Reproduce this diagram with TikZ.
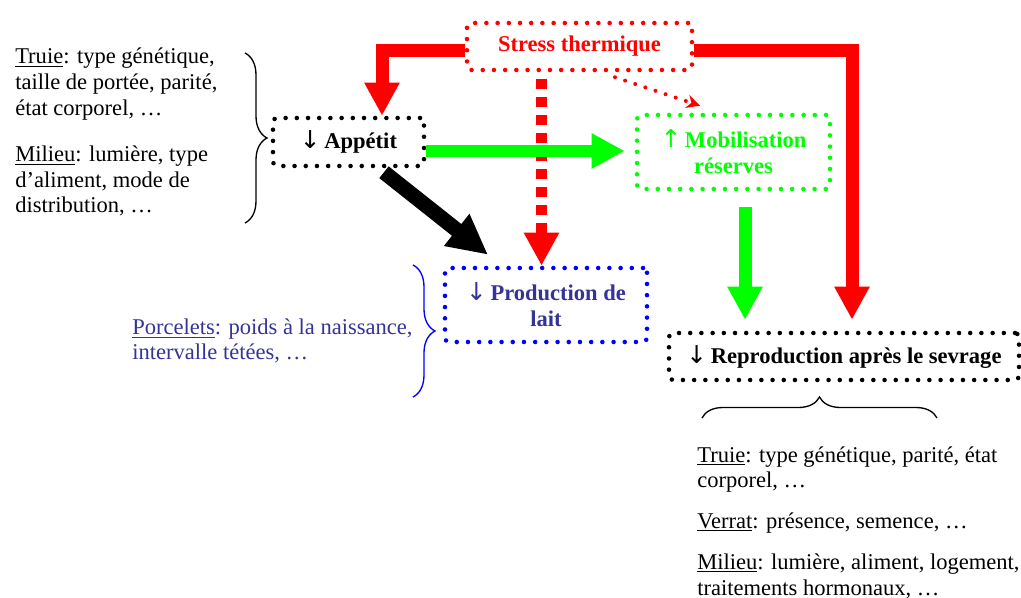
\documentclass[tikz,border=0pt]{standalone}
\usepackage{fontspec}
\setmainfont{Liberation Serif}
\newfontfamily\arrowfont{DejaVu Sans}
\usetikzlibrary{arrows.meta,calc,decorations.pathreplacing}
\definecolor{navytxt}{RGB}{51,51,153}
\newcommand{\darr}{{\arrowfont\mdseries\fontsize{18.5}{19.5}\selectfont ↓}}
\newcommand{\uarr}{{\arrowfont\mdseries\fontsize{18.5}{19.5}\selectfont ↑}}
\begin{document}
\begin{tikzpicture}[x=0.75pt,y=-0.75pt,
  every node/.style={font=\fontsize{16.9}{19.5}\selectfont, inner sep=0pt},
  dotbox/.style={draw, line width=3.4pt, dash pattern=on 0pt off 8.4pt, line cap=round,
    rounded corners=3pt, align=center, font=\fontsize{16.9}{19.5}\selectfont\bfseries},
  txt/.style={anchor=base west},
  bigarrow/.style={line width=9.75pt, -{Triangle[width=24.75pt,length=24.75pt]}},
  bracedeco/.style={decorate, decoration={brace, amplitude=#1}, line width=1pt},
]
\useasboundingbox (0,0) rectangle (1021,598);

% boxes
\node[dotbox, red, minimum width=168.75pt, minimum height=35.25pt] (stress) at (579.5,46.5) {Stress thermique};
\node[dotbox, black, minimum width=113.25pt, minimum height=36pt] (app) at (348.5,142) {\darr\,Appétit};
\node[dotbox, green, minimum width=144.75pt, minimum height=55.5pt] (mob) at (733.5,152) {\uarr\,Mobilisation\\réserves};
\node[dotbox, draw=blue, text=navytxt, minimum width=151.5pt, minimum height=55.5pt] (prod) at (546,305) {\darr\,Production de\\lait};
\node[dotbox, black, minimum width=262.5pt, minimum height=35.25pt] (repro) at (844,356.5) {\darr\,Reproduction après le sevrage};

% connectors
\draw[bigarrow, red] ($(stress.west)+(0,4)$) -| ($(app.north)+(33.5,0)$);
\draw[bigarrow, red] ($(stress.east)+(0,4)$) -| ($(repro.north)+(8,-11)$);
\coordinate (ds) at ($(stress.south)+(-38,7)$);
\draw[red, line width=8.25pt, dash pattern=on 7.5pt off 6pt, -{Triangle[width=24.75pt,length=24.75pt]}] (ds) -- (ds |- prod.north);
\draw[red, line width=3pt, dash pattern=on 0pt off 8pt, line cap=round, -{Stealth[width=10pt,length=10pt]}] ($(stress.south)+(35.5,5)$) -- ($(mob.north)+(-33.5,-7)$);
\draw[bigarrow, green, line width=9pt] ($(app.east)+(0,9)$) -- ($(mob.west)+(-10,-1)$);
\draw[black, line width=11.25pt, -{Triangle[width=28.5pt,length=30pt]}] ($(app.south)+(35.5,4)$) -- ($(prod.north)+(-58,-11)$);
\draw[bigarrow, green] ($(mob.south)+(11.5,16)$) -- ($(repro.north)+(-99,-11)$);

% braces
\draw[bracedeco=16.5pt, black] (245,53) -- (245,223);
\draw[bracedeco=16.5pt, blue] (413,265) -- (413,397);
\draw[bracedeco=15.75pt, black] (702,418) -- (937,418);

% left text
\node[txt] (l1) at (15,64) {\underline{Truie}: type génétique,};
\node[txt] (l2) at (15,90) {taille de portée, parité,};
\node[txt] (l3) at (15,116) {état corporel, …};
\node[txt] (l4) at (15,162) {\underline{Milieu}: lumière, type};
\node[txt] (l5) at (15,188) {d’aliment, mode de};
\node[txt] (l6) at (15,213) {distribution, …};

% piglets text
\node[txt, text=navytxt] (p1) at (132,335) {\underline{Porcelets}: poids à la naissance,};
\node[txt, text=navytxt] (p2) at (132,360) {intervalle tétées, …};

% bottom right text
\node[txt] (r1) at (697,462) {\underline{Truie}: type génétique, parité, état};
\node[txt] (r2) at (697,487) {corporel, …};
\node[txt] (r3) at (697,528) {\underline{Verrat}: présence, semence, …};
\node[txt] (r4) at (697,569) {\underline{Milieu}: lumière, aliment, logement,};
\node[txt] (r5) at (697,595) {traitements hormonaux, …};
\end{tikzpicture}
\end{document}
